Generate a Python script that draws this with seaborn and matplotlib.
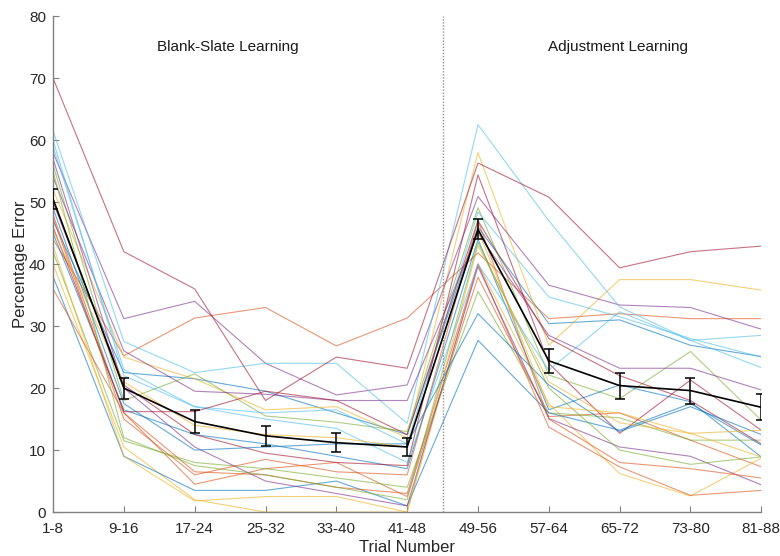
import numpy as np
import pandas as pd
import matplotlib
matplotlib.use("Agg")
import matplotlib.pyplot as plt
import seaborn as sns

trial_bins = ["1-8", "9-16", "17-24", "25-32", "33-40", "41-48",
              "49-56", "57-64", "65-72", "73-80", "81-88"]

s01 = [47, 22.5, 21.5, 19.5, 16, 12.5, 46, 30.4, 31, 26.9, 25.1]
s02 = [44, 25.2, 31.3, 33, 26.8, 31.3, 41.8, 31.2, 32, 31.2, 31.2]
s03 = [52, 25, 21.5, 16.5, 17, 12, 58, 26.9, 37.5, 37.5, 35.8]
s04 = [58, 31.2, 34, 24, 18.9, 20.5, 50.9, 36.6, 33.4, 33, 29.5]
s05 = [56, 18, 22.3, 15.5, 14.5, 13, 49.1, 22.1, 18.3, 25.9, 14.8]
s06 = [61.5, 27.5, 22.5, 24, 24, 14.3, 62.5, 47, 33.1, 27.7, 23.3]
s07 = [70, 42, 36, 18, 25, 23.2, 56.3, 50.8, 39.4, 42, 42.9]
s08 = [45, 16.5, 12.5, 11, 9, 7, 44, 16.5, 20.5, 17.8, 8.9]
s09 = [48, 16, 4.5, 7, 8, 2.5, 37.9, 15.4, 16, 11.6, 7.3]
s10 = [40, 10.5, 2, 0, 0, 0, 40.1, 17.5, 6.2, 2.6, 8.7]
s11 = [54, 26, 19.5, 19, 18, 18, 45, 28.5, 23.2, 23.2, 19.7]
s12 = [42, 11.5, 8, 7, 5.5, 4, 35.6, 16, 15.2, 11.6, 11.6]
s13 = [59, 23, 17, 16, 16.5, 11, 48.4, 34.7, 31.5, 28, 25]
s14 = [50, 20.5, 12.5, 9.5, 8, 7.5, 54.4, 24, 12.7, 21.3, 13.2]
s15 = [38, 9, 3.5, 3.5, 5, 1, 27.7, 16, 13.2, 17.5, 10.8]
s16 = [36, 16, 6.5, 6, 4, 3, 40, 13.7, 7.3, 2.7, 3.5]
s17 = [43, 9, 1.8, 2.5, 2.5, 0, 43, 21, 14.4, 12.7, 8.9]
s18 = [57, 20, 10.5, 5, 3, 1, 39.6, 15.1, 10.5, 9, 4.4]
s19 = [55, 12, 7.5, 6, 4, 2, 43.5, 20, 10, 7.7, 8.9]
s20 = [60, 22, 17, 15, 13.5, 8, 40, 22.9, 32.3, 27.7, 28.5]
s21 = [46, 16.2, 16.2, 19.5, 18, 12.5, 47, 28, 22, 18, 11]
s22 = [49, 17.5, 10, 10.5, 11, 11, 32, 20.5, 13, 17, 12.5]
s23 = [47.5, 15, 6, 8.5, 6.5, 6, 47, 15, 8, 7, 5.5]
s24 = [45.5, 21, 14, 12.5, 12, 10.5, 45.5, 17, 16, 12.7, 13.2]

mean_error = [50.5, 20.0, 14.6, 12.3, 11.2, 10.5, 45.6, 24.4, 20.4, 19.6, 16.9]
sem_error = [1.6, 1.7, 1.9, 1.6, 1.5, 1.5, 1.6, 1.9, 2.1, 2.1, 2.1]

subjects = [s01, s02, s03, s04, s05, s06, s07, s08, s09, s10, s11, s12,
            s13, s14, s15, s16, s17, s18, s19, s20, s21, s22, s23, s24]

matlab_colors = ['#0072BD', '#D95319', '#EDB120', '#7E2F8E',
                 '#77AC30', '#4DBEEE', '#A2142F']

rows = []
for i, vals in enumerate(subjects):
    for j, v in enumerate(vals):
        rows.append({"subject": f"S{i+1:02d}", "pos": j, "error": v})
df = pd.DataFrame(rows)
palette = [matlab_colors[i % 7] for i in range(len(subjects))]

sns.set_style("ticks")
plt.rcParams['font.family'] = ['Liberation Sans', 'DejaVu Sans']

fig = plt.figure(figsize=(7.8, 5.56), dpi=100)
ax = fig.add_axes([0.068, 0.079, 0.908, 0.892])

sns.lineplot(data=df, x="pos", y="error", hue="subject", palette=palette,
             legend=False, linewidth=0.8, alpha=0.6, ax=ax, estimator=None)

ax.errorbar(np.arange(len(trial_bins)), mean_error, yerr=sem_error,
            color='black', linewidth=1.2, capsize=3.5, capthick=1.1,
            elinewidth=1.1, zorder=10)

ax.axvline(5.5, color='#909090', linestyle=(0, (1, 1.2)), linewidth=1.0)

ax.text(2.47, 75, "Blank-Slate Learning", ha='center', va='center',
        fontsize=11, color='#1a1a1a')
ax.text(7.97, 75, "Adjustment Learning", ha='center', va='center',
        fontsize=11, color='#1a1a1a')

ax.set_xlim(0, 10)
ax.set_ylim(0, 80)
ax.set_xticks(np.arange(len(trial_bins)))
ax.set_xticklabels(trial_bins)
ax.set_yticks(np.arange(0, 81, 10))
ax.set_xlabel("Trial Number", fontsize=12, color='#262626', labelpad=3)
ax.set_ylabel("Percentage Error", fontsize=12, color='#262626', labelpad=1)
ax.tick_params(axis='both', direction='in', length=4, width=0.8,
               colors='#808080', labelcolor='#262626', labelsize=11)
ax.tick_params(axis='x', pad=7)
ax.tick_params(axis='y', pad=5)
for side in ['top', 'right']:
    ax.spines[side].set_visible(False)
for side in ['left', 'bottom']:
    ax.spines[side].set_color('#808080')
    ax.spines[side].set_linewidth(1.0)

fig.savefig("out.png", dpi=100)
